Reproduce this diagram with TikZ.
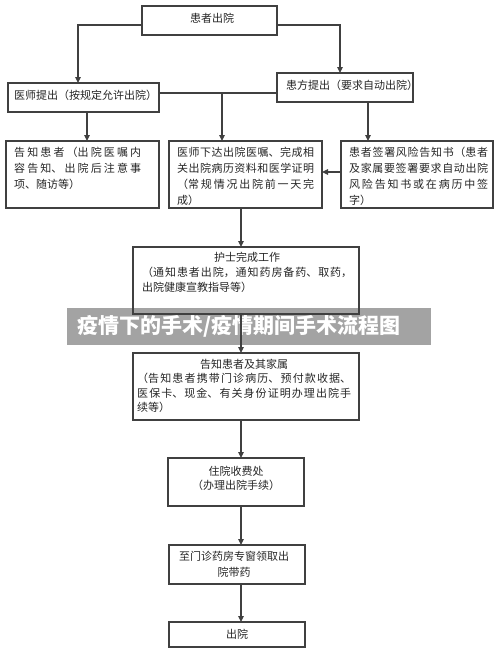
\documentclass[tikz,border=0pt]{standalone}
\usepackage{fontspec}
\setmainfont{Noto Sans CJK SC}
\XeTeXlinebreaklocale "zh"
\XeTeXlinebreakskip=0pt plus 3pt
\usetikzlibrary{arrows.meta}
\definecolor{bannergray}{HTML}{A3A3A3}
\begin{document}
\begin{tikzpicture}[x=1pt,y=-1pt,
  box/.style={draw=black!75, line width=1.1pt, inner sep=0pt, outer sep=0pt},
  arr/.style={draw=black!75, line width=1.1pt, -{Triangle[length=6pt,width=5.5pt]}},
  link/.style={draw=black!75, line width=1.1pt},
  lbl/.style={inner sep=0pt, text=black!85, font=\fontsize{11pt}{16pt}\selectfont},
  para/.style={lbl, anchor=base west, align=justify},
]
\useasboundingbox (0,0) rectangle (500,654);
\fill[white] (0,0) rectangle (500,654);
% banner
\fill[bannergray] (67,308) rectangle (431,345);
\node[inner sep=0pt, anchor=west, text=white, font=\fontsize{21pt}{21pt}\selectfont\bfseries] (banner) at (77,326) {疫情下的手术/疫情期间手术流程图};
% boxes
\node[box, minimum width=135pt, minimum height=29pt] (top) at (209.5,20.5) {};
\node[box, minimum width=151pt, minimum height=29pt] (docL) at (83.5,97.5) {};
\node[box, minimum width=136pt, minimum height=29pt] (patR) at (345,87.5) {};
\node[box, minimum width=153pt, minimum height=67pt] (tellL) at (82.5,174.5) {};
\node[box, minimum width=153pt, minimum height=67pt] (mid) at (245.5,174.5) {};
\node[box, minimum width=152pt, minimum height=67pt] (sign) at (417,174.5) {};
\node[box, minimum width=226pt, minimum height=67pt] (nurse) at (246,280.5) {};
\node[box, minimum width=226pt, minimum height=67pt] (family) at (246,386.5) {};
\node[box, minimum width=136pt, minimum height=48pt] (cashier) at (236,482) {};
\node[box, minimum width=136pt, minimum height=39pt] (pharm) at (237,564.5) {};
\node[box, minimum width=136pt, minimum height=25pt] (out) at (237,634.5) {};
% texts
\node[lbl] (tTop) at (212,18) {患者出院};
\node[lbl, anchor=west] (tDoc) at (14,95) {医师提出（按规定允许出院）};
\node[lbl, anchor=west] (tPat) at (286,85) {患方提出（要求自动出院）};
\node[para, text width=127pt] (tTell) at (14,156) {告知患者（出院医嘱内\linebreak 容告知、出院后注意事\linebreak 项、随访等）};
\node[para, text width=137pt] (tMid) at (177,156) {医师下达出院医嘱、完成相\linebreak 关出院病历资料和医学证明\linebreak （常规情况出院前一天完\linebreak 成）};
\node[para, text width=139pt] (tSign) at (349,156) {患者签署风险告知书（患者\linebreak 及家属要签署要求自动出院\linebreak 风险告知书或在病历中签\linebreak 字）};
\node[para, text width=210pt, font=\fontsize{11pt}{15pt}\selectfont] (tNurse) at (142,261) {\hspace*{\fill}护士完成工作\hspace*{\fill}\\（通知患者出院，通知药房备药、取药，\linebreak 出院健康宣教指导等）};
\node[para, text width=214pt, font=\fontsize{11pt}{14.5pt}\selectfont] (tFam) at (137,368) {\hspace*{\fill}告知患者及其家属\hspace*{\fill}\\（告知患者携带门诊病历、预付款收据、\linebreak 医保卡、现金、有关身份证明办理出院手\linebreak 续等）};
\node[lbl, align=center, font=\fontsize{11pt}{14pt}\selectfont, anchor=base] (tCash) at (236,489) {住院收费处\\（办理出院手续）};
\node[lbl, align=center, font=\fontsize{11pt}{15.5pt}\selectfont, anchor=base] (tPharm) at (234,576) {至门诊药房专窗领取出\\院带药};
\node[lbl] (tOut) at (237,634) {出院};
% connectors
\coordinate (ty) at (0,25);
\coordinate (aL) at (78,0);
\coordinate (aR) at (340,0);
\coordinate (hy) at (0,93);
\coordinate (bj) at (222,93);
\coordinate (xL) at (87,0);
\coordinate (xR) at (368,0);
\coordinate (sy) at (0,172);
\coordinate (cx) at (241,0);
\draw[arr] (top.west |- ty) -| (aL |- docL.north);
\draw[arr] (top.east |- ty) -| (aR |- patR.north);
\draw[link] (docL.east |- hy) -- (patR.west |- hy);
\draw[arr] (bj) -- (bj |- mid.north);
\draw[arr] (xL |- docL.south) -- (xL |- tellL.north);
\draw[arr] (xR |- patR.south) -- (xR |- sign.north);
\draw[arr] (sign.west |- sy) -- (mid.east |- sy);
\draw[arr] (cx |- mid.south) -- (cx |- nurse.north);
\draw[arr] (cx |- nurse.south) -- (cx |- family.north);
\draw[arr] (cx |- family.south) -- (cx |- cashier.north);
\draw[arr] (cx |- cashier.south) -- (cx |- pharm.north);
\draw[arr] (cx |- pharm.south) -- (cx |- out.north);
\end{tikzpicture}
\end{document}
